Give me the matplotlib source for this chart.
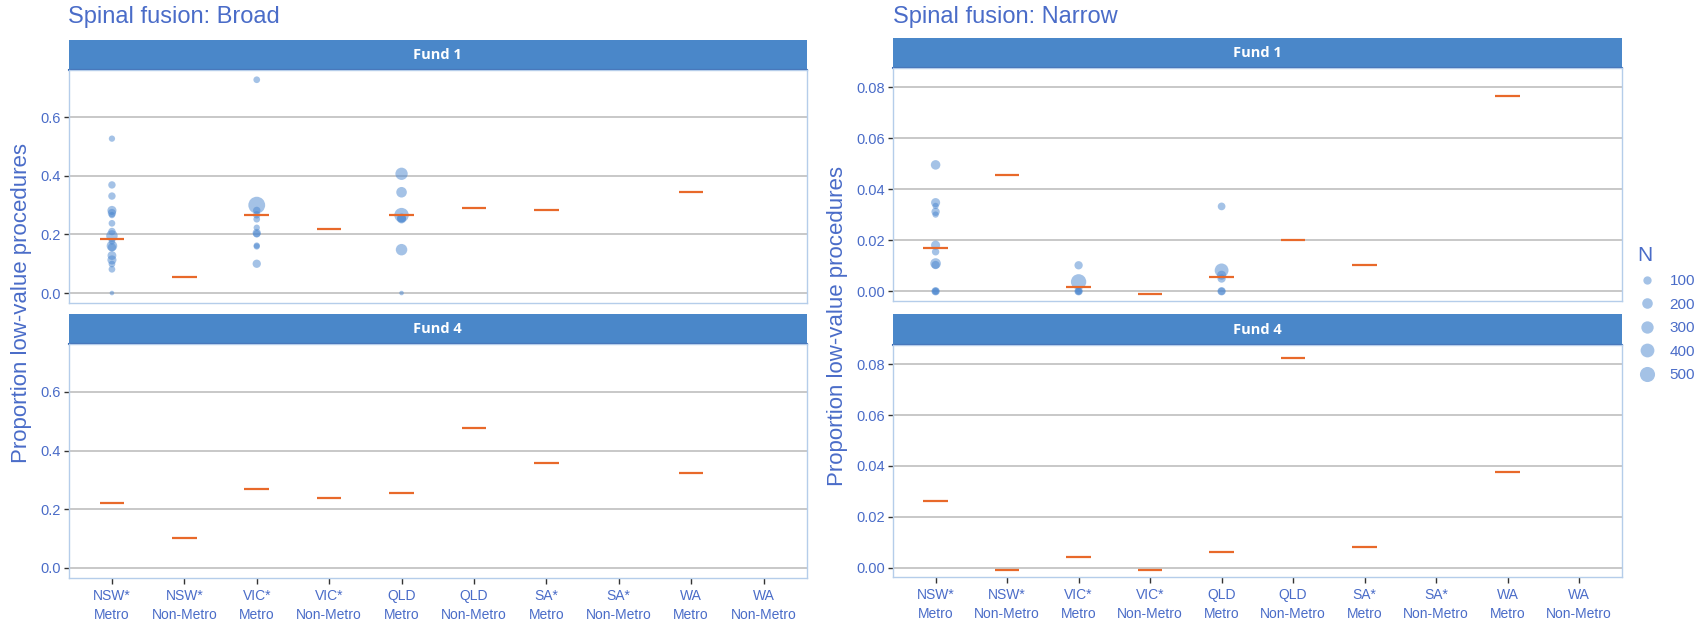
import numpy as np
import matplotlib.pyplot as plt
from matplotlib.lines import Line2D

plt.rcParams['font.family'] = ['Liberation Sans', 'DejaVu Sans']

# ---- data -------------------------------------------------------------
categories = ["NSW*\nMetro", "NSW*\nNon-Metro", "VIC*\nMetro", "VIC*\nNon-Metro",
              "QLD\nMetro", "QLD\nNon-Metro", "SA*\nMetro", "SA*\nNon-Metro",
              "WA\nMetro", "WA\nNon-Metro"]
nan = np.nan

# medians (orange bars), one per category
broad_fund1_median = [0.183, 0.055, 0.265, 0.219, 0.266, 0.290, 0.285, nan, 0.344, nan]
broad_fund4_median = [0.221, 0.101, 0.269, 0.239, 0.255, 0.478, 0.359, nan, 0.323, nan]
narrow_fund1_median = [0.0168, 0.0456, 0.0018, -0.0010, 0.0056, 0.0203, 0.0103, nan, 0.0765, nan]
narrow_fund4_median = [0.0262, -0.0010, 0.0044, -0.0010, 0.0061, 0.0822, 0.0082, nan, 0.0376, nan]

# individual providers in Fund 1 (category index, proportion, N)
broad_pts_cat = [0] * 17 + [2] * 11 + [4] * 7
broad_pts_prop = [0.527, 0.369, 0.331, 0.282, 0.273, 0.266, 0.238, 0.210, 0.195,
                  0.176, 0.161, 0.156, 0.128, 0.113, 0.099, 0.081, 0.0,
                  0.728, 0.300, 0.282, 0.267, 0.252, 0.223, 0.205, 0.202, 0.162,
                  0.159, 0.100,
                  0.407, 0.344, 0.266, 0.253, 0.256, 0.148, 0.0]
broad_pts_n = [40, 70, 70, 130, 100, 40, 50, 70, 250, 40, 200, 100, 120, 130, 50, 50, 10,
               50, 650, 70, 70, 50, 40, 100, 70, 40, 40, 100,
               300, 200, 450, 130, 130, 250, 10]

narrow_pts_cat = [0] * 12 + [2] * 5 + [4] * 6
narrow_pts_prop = [0.0496, 0.0348, 0.0335, 0.0312, 0.0301, 0.0181, 0.0155, 0.0109,
                   0.0103, 0.0, 0.0, 0.0,
                   0.0102, 0.0037, 0.0, 0.0, 0.0,
                   0.0333, 0.0082, 0.0063, 0.0050, 0.0, 0.0]
narrow_pts_n = [150, 130, 40, 100, 40, 130, 70, 200, 100, 100, 70, 40,
                100, 520, 100, 70, 40,
                80, 400, 130, 100, 100, 70]

legend_n = [100, 200, 300, 400, 500]

# ---- style ------------------------------------------------------------
W, H = 1703, 621
BLUE_TXT = '#4A6CC8'
STRIP = '#4A87C9'
PT = '#4A86CF'
ORANGE = '#E8692A'
GRID = '#C4C4C4'
BORDER = '#B5CDEA'


def box(x0, y0, x1, y1):
    return [x0 / W, 1 - y1 / H, (x1 - x0) / W, (y1 - y0) / H]


def diam(n):
    # marker diameter in px from N
    return 2.8 + 0.55 * np.sqrt(np.asarray(n, dtype=float))


def strip(fig, rect, label):
    ax = fig.add_axes(box(*rect))
    ax.set_facecolor(STRIP)
    ax.set_xticks([])
    ax.set_yticks([])
    for s in ('top', 'left', 'right'):
        ax.spines[s].set_visible(False)
    ax.spines['bottom'].set_color('#2F64B0')
    ax.spines['bottom'].set_linewidth(1.5)
    ax.text(0.5, 0.5, label, transform=ax.transAxes, ha='center', va='center',
            color='white', fontsize=10.5, fontweight='bold', family=['Open Sans'])


def panel(fig, rect, ylim, yticks, fmt, medians, pts=None, bottom=False):
    ax = fig.add_axes(box(*rect))
    x = np.arange(1, len(categories) + 1)
    ax.set_xlim(0.4, len(categories) + 0.6)
    ax.set_ylim(*ylim)
    ax.set_yticks(yticks)
    ax.set_yticklabels([fmt.format(v) for v in yticks])
    for yv in yticks:
        ax.axhline(yv, color=GRID, lw=1.3, zorder=1)
    for s in ax.spines.values():
        s.set_color(BORDER)
        s.set_linewidth(1.0)
    if pts is not None:
        cat, prop, n = pts
        d = diam(n)
        ax.scatter(np.asarray(cat) + 1, prop, s=(d * 0.72) ** 2, color=PT,
                   alpha=0.5, edgecolors='none', zorder=3)
    med = np.asarray(medians)
    ok = ~np.isnan(med)
    ax.hlines(med[ok], x[ok] - 0.17, x[ok] + 0.17, color=ORANGE, lw=1.6, zorder=4)
    ax.tick_params(axis='y', length=3.5, width=1, color='#333333',
                   labelcolor=BLUE_TXT, labelsize=10.5, pad=2)
    if bottom:
        ax.set_xticks(x)
        ax.set_xticklabels(categories, linespacing=1.45)
        ax.tick_params(axis='x', length=4, width=1, color='#333333',
                       labelcolor=BLUE_TXT, labelsize=10, pad=4)
    else:
        ax.set_xticks([])
    return ax


fig = plt.figure(figsize=(W / 100, H / 100), dpi=100)

# ---- left: Broad --------------------------------------------------------
lx0, lx1 = 68.5, 807
broad_ylim = (-0.034, 0.763)
broad_ticks = [0.0, 0.2, 0.4, 0.6]
strip(fig, (lx0, 40, lx1, 69.5), 'Fund 1')
panel(fig, (lx0, 69.5, lx1, 303), broad_ylim, broad_ticks, '{:.1f}',
      broad_fund1_median, (broad_pts_cat, broad_pts_prop, broad_pts_n))
strip(fig, (lx0, 314.3, lx1, 344.3), 'Fund 4')
panel(fig, (lx0, 344.3, lx1, 577.5), broad_ylim, broad_ticks, '{:.1f}',
      broad_fund4_median, bottom=True)
fig.text(lx0 / W, 1 - 6 / H, 'Spinal fusion: Broad', ha='left', va='top',
         fontsize=17, color=BLUE_TXT)
fig.text(22 / W, 1 - 303 / H, 'Proportion low-value procedures', rotation=90,
         ha='center', va='center', fontsize=16, color=BLUE_TXT)

# ---- right: Narrow ------------------------------------------------------
rx0, rx1 = 892.7, 1622
narrow_ylim = (-0.0037, 0.0875)
narrow_ticks = [0.0, 0.02, 0.04, 0.06, 0.08]
strip(fig, (rx0, 38, rx1, 68.3), 'Fund 1')
panel(fig, (rx0, 68.3, rx1, 300.7), narrow_ylim, narrow_ticks, '{:.2f}',
      narrow_fund1_median, (narrow_pts_cat, narrow_pts_prop, narrow_pts_n))
strip(fig, (rx0, 314.3, rx1, 345), 'Fund 4')
panel(fig, (rx0, 345, rx1, 577.3), narrow_ylim, narrow_ticks, '{:.2f}',
      narrow_fund4_median, bottom=True)
fig.text(rx0 / W, 1 - 6 / H, 'Spinal fusion: Narrow', ha='left', va='top',
         fontsize=17, color=BLUE_TXT)
fig.text(838 / W, 1 - 326 / H, 'Proportion low-value procedures', rotation=90,
         ha='center', va='center', fontsize=16, color=BLUE_TXT)

# ---- size legend --------------------------------------------------------
handles = [Line2D([], [], ls='none', marker='o', markersize=d * 0.72,
                  markerfacecolor=PT, markeredgecolor='none', alpha=0.5)
           for d in diam(legend_n)]
leg = fig.legend(handles, [str(v) for v in legend_n], title='N',
                 loc='upper left', bbox_to_anchor=(1630 / W, 1 - 238 / H),
                 frameon=False, fontsize=11, title_fontsize=15,
                 labelspacing=0.62, handletextpad=0.9, handlelength=1.2,
                 borderpad=0)
leg._legend_box.align = 'left'
for t in leg.get_texts():
    t.set_color(BLUE_TXT)
leg.get_title().set_color(BLUE_TXT)

fig.savefig('out.png', dpi=100)
